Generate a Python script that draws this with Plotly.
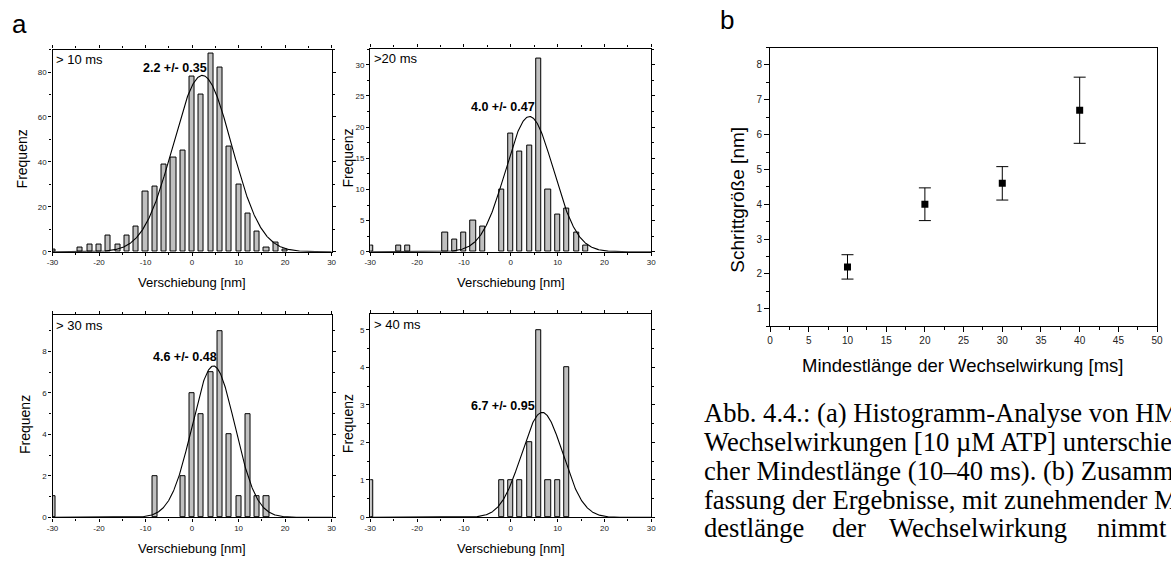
import numpy as np
import plotly.graph_objects as go

# ---------------- data ----------------
# Panel a histograms: bin centres (nm) and counts
centers_10 = [-30, -24, -22, -20, -18, -16, -14, -12, -10, -8, -6, -4, -2, 0, 2, 4, 6, 8, 10, 12, 14, 16, 18, 20]
counts_10 = [1, 2, 3, 3, 7, 3, 7, 11, 27, 29, 39, 42, 45, 78, 70, 88, 82, 47, 30, 17, 9, 2, 4, 1]

centers_20 = [-30, -24, -22, -14, -12, -10, -8, -6, -2, 0, 2, 4, 6, 8, 10, 12, 14, 16]
counts_20 = [1, 1, 1, 3, 2, 3, 5, 4, 10, 19, 16, 17, 31, 10, 6, 7, 3, 1]

centers_30 = [-30, -8, -2, 0, 2, 4, 6, 8, 10, 12, 14, 16]
counts_30 = [1, 2, 2, 6, 5, 7, 9, 4, 1, 5, 1, 1]

centers_40 = [-30, -2, 0, 2, 4, 6, 8, 10, 12]
counts_40 = [1, 1, 1, 1, 2, 5, 1, 1, 4]

# Gaussian fit parameters (centre, amplitude, sigma)
fit_center = [2.2, 4.0, 4.6, 6.7]
fit_amp = [78.5, 21.7, 7.3, 2.8]
fit_sigma = [6.3, 5.1, 4.6, 4.4]
fit_labels = ["2.2 +/- 0.35", "4.0 +/- 0.47", "4.6 +/- 0.48", "6.7 +/- 0.95"]
panel_labels = ["> 10 ms", ">20 ms", "> 30 ms", "> 40 ms"]

# Panel b: step size vs. minimum interaction length
min_length = [10, 20, 30, 40]
step_size = [2.2, 4.0, 4.6, 6.7]
step_err = [0.35, 0.47, 0.48, 0.95]

hist_xticks = [-30, -20, -10, 0, 10, 20, 30]
hist_xticktext = ["-30", "-20", "-10", "0", "10", "20", "30"]
b_xticks = [0, 5, 10, 15, 20, 25, 30, 35, 40, 45, 50]
b_yticks = [1, 2, 3, 4, 5, 6, 7, 8]

caption_lines = [
    "Abb. 4.4.: (a) Histogramm-Analyse von HMM-",
    "Wechselwirkungen [10 µM ATP] unterschiedli-",
    "cher Mindestlänge (10–40 ms). (b) Zusammen-",
    "fassung der Ergebnisse, mit zunehmender Min-",
]
caption_last_words = ["destlänge", "der", "Wechselwirkung", "nimmt", "die"]
caption_final = "Schrittgröße zu."

# ---------------- layout geometry ----------------
W, H = 1171, 564
def px_x(v):
    return v / W
def px_y(v):
    return 1 - v / H

# (x0, x1, ytop, ybottom) in pixels
hist_boxes = [(47, 329, 50, 254), (368, 652, 49, 254), (47, 329, 318, 522), (368, 652, 317, 522)]
hist_yranges = [[0, 90], [0, 32.6], [0, 9.75], [0, 5.42]]
hist_ydtick = [20, 5, 2, 1]
b_box = (772, 1163, 48, 329)

FONT = "Arial, Liberation Sans, sans-serif"
BAR_FILL = "#c0c0c0"

fig = go.Figure()
annotations = []

x_fit = np.linspace(-30, 30, 601)
hist_data = [(centers_10, counts_10), (centers_20, counts_20), (centers_30, counts_30), (centers_40, counts_40)]

for i, (cx, cy) in enumerate(hist_data):
    n = i + 1
    xa = "x" if n == 1 else f"x{n}"
    ya = "y" if n == 1 else f"y{n}"
    fig.add_trace(go.Bar(x=cx, y=cy, width=1.1, xaxis=xa, yaxis=ya,
                         marker=dict(color=BAR_FILL, line=dict(color="black", width=1)),
                         showlegend=False))
    y_fit = fit_amp[i] * np.exp(-0.5 * ((x_fit - fit_center[i]) / fit_sigma[i]) ** 2)
    fig.add_trace(go.Scatter(x=x_fit, y=y_fit, mode="lines", xaxis=xa, yaxis=ya,
                             line=dict(color="black", width=1.1), showlegend=False))

    x0, x1, yt, yb = hist_boxes[i]
    axis_common = dict(showline=True, linecolor="black", linewidth=1.3, mirror="ticks",
                       ticks="outside", ticklen=3, tickwidth=1, tickcolor="black",
                       showgrid=False, zeroline=False,
                       tickfont=dict(family=FONT, size=8, color="#222"))
    fig.update_layout(**{
        ("xaxis" if n == 1 else f"xaxis{n}"): dict(
            domain=[px_x(x0), px_x(x1)], anchor=ya, range=[-30, 30],
            tickvals=hist_xticks, ticktext=hist_xticktext,
            minor=dict(dtick=5, ticks="outside", ticklen=2, tickcolor="black", showgrid=False),
            **axis_common),
        ("yaxis" if n == 1 else f"yaxis{n}"): dict(
            domain=[px_y(yb), px_y(yt)], anchor=xa, range=hist_yranges[i],
            dtick=hist_ydtick[i], tick0=0,
            minor=dict(dtick=hist_ydtick[i] / 2, ticks="outside", ticklen=2, tickcolor="black", showgrid=False),
            **axis_common),
    })
    # panel label (top-left)
    annotations.append(dict(xref="paper", yref="paper", x=px_x(x0 + 2), y=px_y(yt + 10),
                            xanchor="left", yanchor="middle", showarrow=False,
                            text=panel_labels[i], font=dict(family=FONT, size=13, color="black")))
    # axis titles
    annotations.append(dict(xref="paper", yref="paper", x=px_x((x0 + x1) / 2), y=px_y(yb + 31),
                            xanchor="center", yanchor="middle", showarrow=False,
                            text="Verschiebung [nm]", font=dict(family=FONT, size=13, color="black")))
    ytitle_x = [16, 346, 19, 345][i]
    annotations.append(dict(xref="paper", yref="paper", x=px_x(ytitle_x), y=px_y((yt + yb) / 2 + 8),
                            xanchor="center", yanchor="middle", showarrow=False, textangle=-90,
                            text="Frequenz", font=dict(family=FONT, size=14, color="black")))

# fit labels in data coordinates
fit_label_pos = [(-3.6, 81.9), (-1.75, 23.3), (-1.5, 7.73), (-1.75, 2.97)]
for i, (lx, ly) in enumerate(fit_label_pos):
    n = i + 1
    annotations.append(dict(xref="x" if n == 1 else f"x{n}", yref="y" if n == 1 else f"y{n}",
                            x=lx, y=ly, xanchor="center", yanchor="middle", showarrow=False,
                            text=f"<b>{fit_labels[i]}</b>",
                            font=dict(family=FONT, size=12.5, color="black")))

# ---------------- panel b ----------------
fig.add_trace(go.Scatter(x=min_length, y=step_size, mode="markers", xaxis="x5", yaxis="y5",
                         marker=dict(symbol="square", size=7, color="black"),
                         error_y=dict(type="data", array=step_err, visible=True,
                                      color="black", thickness=1, width=6),
                         showlegend=False))
bx0, bx1, byt, byb = b_box
b_axis = dict(showline=True, linecolor="black", linewidth=1.3, mirror=True,
              ticks="outside", ticklen=5, tickwidth=1, tickcolor="black",
              showgrid=False, zeroline=False,
              tickfont=dict(family=FONT, size=10, color="#222"))
fig.update_layout(
    xaxis5=dict(domain=[px_x(bx0), px_x(bx1)], anchor="y5", range=[0, 50],
                tickvals=b_xticks,
                minor=dict(dtick=2.5, ticks="outside", ticklen=3, tickcolor="black", showgrid=False),
                **b_axis),
    yaxis5=dict(domain=[px_y(byb), px_y(byt)], anchor="x5", range=[0.5, 8.5],
                tickvals=b_yticks,
                minor=dict(dtick=0.5, ticks="outside", ticklen=3, tickcolor="black", showgrid=False),
                **b_axis),
)
annotations.append(dict(xref="paper", yref="paper", x=px_x(967), y=px_y(369),
                        xanchor="center", yanchor="middle", showarrow=False,
                        text="Mindestlänge der Wechselwirkung [ms]",
                        font=dict(family=FONT, size=18.5, color="black")))
annotations.append(dict(xref="paper", yref="paper", x=px_x(739), y=px_y(201),
                        xanchor="center", yanchor="middle", showarrow=False, textangle=-90,
                        text="Schrittgröße [nm]",
                        font=dict(family=FONT, size=19, color="black")))

# panel letters
annotations.append(dict(xref="paper", yref="paper", x=px_x(14), y=px_y(24),
                        xanchor="center", yanchor="middle", showarrow=False, text="a",
                        font=dict(family=FONT, size=26, color="black")))
annotations.append(dict(xref="paper", yref="paper", x=px_x(728), y=px_y(20),
                        xanchor="center", yanchor="middle", showarrow=False, text="b",
                        font=dict(family=FONT, size=26, color="black")))

# caption (serif, justified block that runs off the right edge)
SERIF = "Liberation Serif, Times New Roman, serif"
CAP_SIZE = 26.6
cap_x0 = 703
cap_y = [417, 446, 475, 504]
for line, yy in zip(caption_lines, cap_y):
    annotations.append(dict(xref="paper", yref="paper", x=px_x(cap_x0), y=px_y(yy),
                            xanchor="left", yanchor="middle", showarrow=False, text=line,
                            font=dict(family=SERIF, size=CAP_SIZE, color="black")))
last_x = [703, 833, 890, 1100, 1185]
for word, xx in zip(caption_last_words, last_x):
    annotations.append(dict(xref="paper", yref="paper", x=px_x(xx), y=px_y(533),
                            xanchor="left", yanchor="middle", showarrow=False, text=word,
                            font=dict(family=SERIF, size=CAP_SIZE, color="black")))
annotations.append(dict(xref="paper", yref="paper", x=px_x(cap_x0), y=px_y(564),
                        xanchor="left", yanchor="top", yshift=-6, showarrow=False, text=caption_final,
                        font=dict(family=SERIF, size=CAP_SIZE, color="black")))

fig.update_layout(
    width=W, height=H, margin=dict(l=0, r=0, t=0, b=0),
    paper_bgcolor="white", plot_bgcolor="white",
    bargap=0, annotations=annotations,
    font=dict(family=FONT, color="black"),
)

fig.write_html("out.html",
               config={"displayModeBar": False},
               post_script="document.body.style.margin='0px';"
                           "document.documentElement.style.overflow='hidden';"
                           "document.body.style.overflow='hidden';")
